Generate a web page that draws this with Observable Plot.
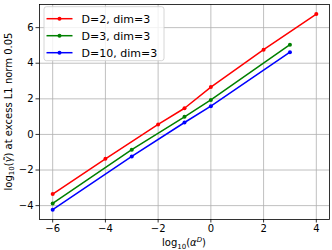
<!DOCTYPE html>
<html>
<head>
<meta charset="utf-8">
<script src="https://cdn.jsdelivr.net/npm/d3@7"></script>
<script src="https://cdn.jsdelivr.net/npm/@observablehq/plot@0.6"></script>
<style>
  html, body { margin: 0; padding: 0; background: #fff; }
  #chart svg { display: block; font-family: "DejaVu Sans", sans-serif; }
</style>
</head>
<body>
<div id="chart"></div>
<script>
// Series data
const seriesNames = ["D=2, dim=3", "D=3, dim=3", "D=10, dim=3"];
const seriesColors = ["#ff0000", "#008000", "#0000ff"];
const xRed = [-6, -4, -2, -1, 0, 2, 4];
const yRed = [-3.35, -1.37, 0.56, 1.47, 2.66, 4.76, 6.76];
const xGreen = [-6, -3, -1, 0, 3];
const yGreen = [-3.88, -0.86, 0.99, 1.94, 5.04];
const xBlue = [-6, -3, -1, 0, 3];
const yBlue = [-4.23, -1.24, 0.67, 1.59, 4.62];
const xTicks = [-6, -4, -2, 0, 2, 4];
const yTicks = [-4, -2, 0, 2, 4, 6];

const seriesX = [xRed, xGreen, xBlue];
const seriesY = [yRed, yGreen, yBlue];
const data = seriesX.flatMap((xs, s) => xs.map((x, i) => ({series: seriesNames[s], x, y: seriesY[s][i]})));

const fmt = d => d < 0 ? "\u2212" + Math.abs(d) : String(d);

const W = 332, H = 250;
const mL = 39, mR = 3, mT = 4, mB = 31;

const plot = Plot.plot({
  width: W,
  height: H,
  marginLeft: mL,
  marginRight: mR,
  marginTop: mT,
  marginBottom: mB,
  style: {fontFamily: "DejaVu Sans, sans-serif", fontSize: "10px", background: "#fff", color: "#000"},
  x: {domain: [-6.5, 4.5]},
  y: {domain: [-4.78, 7.3]},
  color: {domain: seriesNames, range: seriesColors},
  marks: [
    Plot.gridX(xTicks, {stroke: "#b0b0b0", strokeOpacity: 1, strokeWidth: 0.8}),
    Plot.gridY(yTicks, {stroke: "#b0b0b0", strokeOpacity: 1, strokeWidth: 0.8}),
    Plot.axisX({ticks: xTicks, tickSize: 3.5, tickPadding: 2, tickFormat: fmt, label: null, fontSize: 10, stroke: "#000", strokeWidth: 0.8}),
    Plot.axisY({ticks: yTicks, tickSize: 3.5, tickPadding: 2.5, tickFormat: fmt, label: null, fontSize: 10, stroke: "#000", strokeWidth: 0.8}),
    Plot.line(data, {x: "x", y: "y", z: "series", stroke: "series", strokeWidth: 1.5}),
    Plot.dot(data, {x: "x", y: "y", fill: "series", r: 2}),
    Plot.frame({stroke: "#000", strokeWidth: 0.8})
  ]
});

document.getElementById("chart").appendChild(plot);

const svg = d3.select(plot);

// x label: log10(α^D)
const xl = svg.append("text")
  .attr("x", (mL + W - mR) / 2)
  .attr("y", 246)
  .attr("text-anchor", "middle")
  .attr("font-size", 10)
  .attr("fill", "#000");
xl.append("tspan").text("log");
xl.append("tspan").attr("dy", 2.5).attr("font-size", 7).text("10");
xl.append("tspan").attr("dy", -2.5).text("(");
xl.append("tspan").attr("font-style", "italic").text("α");
xl.append("tspan").attr("dy", -4).attr("font-size", 7).attr("font-style", "italic").text("D");
xl.append("tspan").attr("dy", 4).text(")");

// y label: log10(γ̃) at excess L1 norm 0.05
const yl = svg.append("text")
  .attr("transform", `translate(11.5,${(mT + H - mB) / 2}) rotate(-90)`)
  .attr("text-anchor", "middle")
  .attr("font-size", 10)
  .attr("fill", "#000");
yl.append("tspan").text("log");
yl.append("tspan").attr("dy", 2.5).attr("font-size", 7).text("10");
yl.append("tspan").attr("dy", -2.5).text("(");
yl.append("tspan").attr("font-style", "italic").text("γ\u0303");
yl.append("tspan").text(") at excess L1 norm 0.05");

// Legend
const lg = svg.append("g").attr("text-anchor", "start");
lg.append("rect")
  .attr("x", 44).attr("y", 6.7).attr("width", 120).attr("height", 54)
  .attr("rx", 2.5)
  .attr("fill", "#fff").attr("fill-opacity", 0.8)
  .attr("stroke", "#cccccc").attr("stroke-width", 0.8);
seriesNames.forEach((name, i) => {
  const cy = 18.7 + i * 17;
  lg.append("line")
    .attr("x1", 46.5).attr("x2", 72.5).attr("y1", cy).attr("y2", cy)
    .attr("stroke", seriesColors[i]).attr("stroke-width", 1.5);
  lg.append("circle")
    .attr("cx", 59.5).attr("cy", cy).attr("r", 2)
    .attr("fill", seriesColors[i]);
  lg.append("text")
    .attr("x", 81.5).attr("y", cy)
    .attr("dy", "0.36em")
    .attr("text-anchor", "start")
    .attr("font-size", 11)
    .attr("fill", "#000")
    .text(name);
});
</script>
</body>
</html>
